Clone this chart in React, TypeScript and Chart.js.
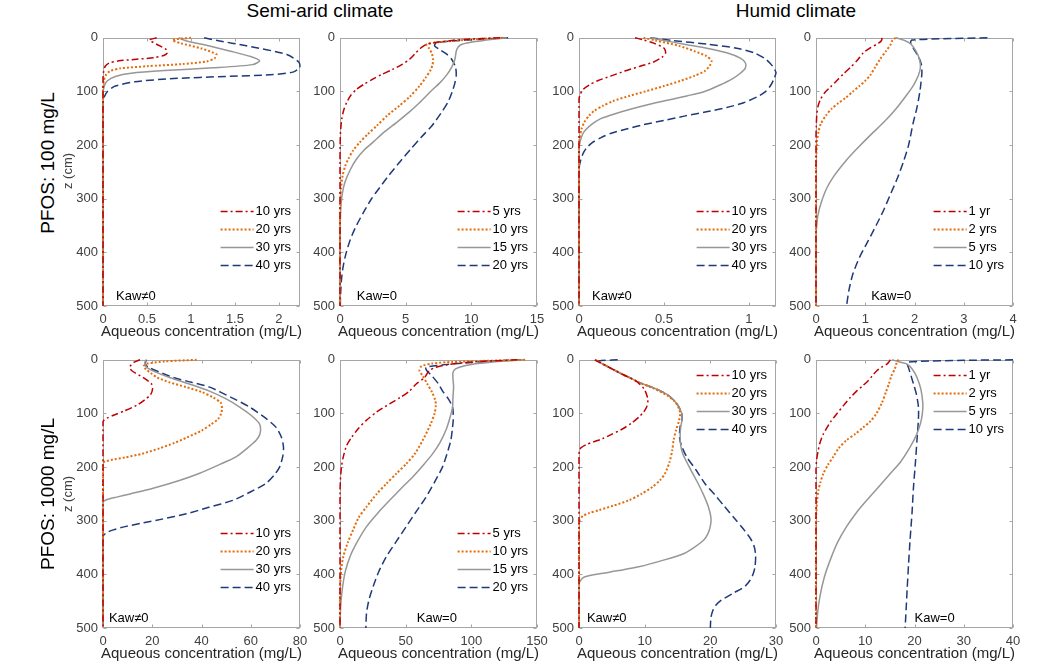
import React, { useEffect, useRef } from 'react';
import { Chart, registerables } from 'chart.js';

Chart.register(...registerables);

// Each point: [depth z (cm), aqueous concentration (mg/L)]
type Pt = [number, number];

// ---- PFOS 100 mg/L, semi-arid, Kaw≠0 ----
const SA100K_10Y: Pt[] = [[0,0.61],[4,0.53],[12,0.61],[22,0.72],[28,0.73],[33,0.69],[37,0.58],[40,0.38],[43,0.18],[47,0.07],[53,0.025],[62,0.008],[75,0],[500,0]];
const SA100K_20Y: Pt[] = [[0,1.0],[4,0.79],[10,0.88],[20,1.12],[31,1.29],[38,1.27],[44,1.18],[49,0.9],[53,0.5],[57,0.2],[62,0.08],[70,0.03],[80,0.01],[95,0],[500,0]];
const SA100K_30Y: Pt[] = [[0,0.86],[6,0.95],[15,1.2],[25,1.45],[35,1.68],[43,1.78],[50,1.7],[56,1.25],[61,0.7],[66,0.32],[72,0.14],[80,0.05],[90,0.015],[105,0],[500,0]];
const SA100K_40Y: Pt[] = [[0,1.15],[5,1.3],[15,1.63],[31,2.09],[46,2.23],[55,2.24],[64,2.16],[69,1.9],[72,1.4],[76,0.8],[82,0.36],[90,0.14],[100,0.05],[110,0.015],[120,0],[500,0]];

// ---- PFOS 100 mg/L, semi-arid, Kaw=0 ----
const SA100_5Y: Pt[] = [[0,12.2],[3,9.5],[7,7.8],[12,6.6],[20,6.1],[30,5.7],[40,5.3],[50,4.7],[59,4.0],[68,3.2],[77,2.5],[87,1.8],[96,1.26],[108,0.8],[121,0.5],[135,0.28],[152,0.13],[175,0.04],[200,0.01],[230,0],[500,0]];
const SA100_10Y: Pt[] = [[0,12.4],[3,10],[7,8],[12,6.6],[20,6.8],[30,7.0],[40,7.08],[50,7.05],[60,6.9],[75,6.5],[90,6.05],[110,5.3],[127,4.5],[145,3.6],[164,2.8],[180,2.1],[195,1.5],[210,1.0],[226,0.63],[240,0.38],[257,0.2],[280,0.08],[300,0.03],[330,0],[500,0]];
const SA100_15Y: Pt[] = [[0,12.7],[3,11.5],[7,10.3],[12,9.3],[17,9.0],[25,8.85],[40,8.75],[55,8.5],[70,8.1],[84,7.6],[100,6.9],[121,6.05],[140,5.2],[158,4.3],[175,3.4],[195,2.5],[210,1.8],[226,1.26],[245,0.8],[269,0.38],[290,0.18],[310,0.08],[337,0.03],[360,0],[500,0]];
const SA100_20Y: Pt[] = [[0,12.8],[3,10.5],[6,8.5],[10,7.3],[15,7.2],[22,7.6],[30,8.1],[40,8.5],[55,8.8],[70,8.85],[84,8.75],[100,8.55],[121,8.2],[140,7.7],[164,7.0],[185,6.2],[207,5.4],[230,4.6],[257,3.7],[280,3.0],[300,2.4],[325,1.8],[350,1.25],[375,0.8],[400,0.48],[425,0.25],[449,0.12],[475,0.05],[500,0.02]];

// ---- PFOS 100 mg/L, humid, Kaw≠0 ----
const HU100K_10Y: Pt[] = [[0,0.33],[4,0.38],[10,0.44],[19,0.5],[28,0.51],[36,0.49],[45,0.44],[53,0.36],[62,0.27],[71,0.19],[80,0.11],[88,0.06],[96,0.025],[105,0.008],[115,0],[500,0]];
const HU100K_20Y: Pt[] = [[0,0.38],[5,0.45],[15,0.59],[25,0.68],[34,0.75],[43,0.78],[52,0.77],[62,0.74],[71,0.68],[80,0.6],[90,0.5],[100,0.39],[108,0.3],[118,0.2],[127,0.14],[136,0.09],[145,0.06],[158,0.03],[170,0.015],[190,0.003],[210,0],[500,0]];
const HU100K_30Y: Pt[] = [[0,0.42],[5,0.5],[12,0.62],[20,0.76],[28,0.87],[38,0.95],[47,0.98],[56,0.98],[66,0.95],[77,0.9],[88,0.83],[100,0.74],[108,0.64],[115,0.54],[122,0.44],[130,0.34],[138,0.25],[145,0.18],[152,0.12],[160,0.08],[175,0.03],[195,0.005],[210,0],[500,0]];
const HU100K_40Y: Pt[] = [[0,0.42],[5,0.55],[12,0.76],[19,0.92],[28,1.03],[40,1.1],[53,1.14],[65,1.16],[75,1.15],[88,1.13],[100,1.1],[110,1.05],[121,0.97],[130,0.87],[138,0.75],[146,0.62],[154,0.5],[162,0.38],[170,0.28],[178,0.19],[186,0.13],[195,0.08],[205,0.045],[215,0.025],[228,0.01],[245,0],[500,0]];

// ---- PFOS 100 mg/L, humid, Kaw=0 ----
const HU100_1Y: Pt[] = [[0,1.34],[5,1.33],[10,1.27],[19,1.1],[28,0.96],[43,0.83],[55,0.7],[68,0.55],[80,0.42],[92,0.29],[102,0.18],[115,0.09],[128,0.04],[145,0.015],[165,0.005],[185,0],[500,0]];
const HU100_2Y: Pt[] = [[0,1.62],[5,1.55],[12,1.52],[25,1.42],[40,1.3],[55,1.2],[70,1.1],[80,1.0],[90,0.88],[100,0.75],[112,0.6],[122,0.45],[132,0.32],[145,0.2],[160,0.1],[175,0.05],[195,0.02],[220,0.005],[240,0],[500,0]];
const HU100_5Y: Pt[] = [[0,1.62],[5,1.8],[12,1.93],[25,2.03],[40,2.1],[55,2.12],[70,2.08],[90,1.97],[114,1.78],[135,1.6],[158,1.37],[180,1.12],[207,0.83],[230,0.6],[257,0.37],[280,0.22],[306,0.11],[330,0.04],[350,0.015],[370,0],[500,0]];
const HU100_10Y: Pt[] = [[0,3.48],[2,2.5],[4,1.95],[8,1.92],[20,1.98],[35,2.08],[50,2.14],[65,2.15],[85,2.13],[100,2.11],[130,2.05],[160,1.97],[200,1.88],[230,1.78],[260,1.66],[290,1.52],[320,1.38],[350,1.22],[380,1.05],[410,0.88],[440,0.75],[470,0.67],[500,0.62]];

// ---- PFOS 1000 mg/L, semi-arid, Kaw≠0 ----
const SA1000K_10Y: Pt[] = [[0,15],[5,12.5],[13,10.9],[20,11.6],[33,16.3],[45,19.7],[55,20.1],[65,19.3],[75,16.8],[85,13.6],[95,8.8],[103,4.5],[109,1.5],[113,0.3],[116,0],[500,0]];
const SA1000K_20Y: Pt[] = [[0,38],[3,25],[7,18],[12,16.5],[18,17.5],[25,19.5],[33,22],[42,27],[51,33.9],[60,40],[70,44.7],[80,47.8],[90,48.3],[100,48],[110,46.8],[120,44],[132,40],[145,34],[155,29],[165,23],[175,16],[182,9],[186,4],[189,1.5],[192,0],[500,0]];
const SA1000K_30Y: Pt[] = [[0,17.5],[5,17],[14,17.7],[22,21],[33,27],[45,35],[58,43],[73,50],[88,55.5],[103,60],[119,63.5],[130,64],[140,63.6],[150,62.2],[165,58.5],[181,54],[195,47.5],[212,39],[225,31],[240,20],[250,11],[256,5.5],[260,2],[263,0.5],[266,0],[500,0]];
const SA1000K_40Y: Pt[] = [[0,17.7],[5,17.2],[10,17.5],[14,18.5],[22,22.5],[33,28.5],[42,36],[51,43.3],[70,52],[88,59.5],[107,65.5],[126,70.3],[145,72.5],[163,73.3],[180,73],[200,71.7],[215,69.5],[231,66],[246,60],[262,52.8],[275,43],[287,33.9],[297,24],[304,16.3],[311,9],[317,4.2],[323,1.2],[330,0],[500,0]];

// ---- PFOS 1000 mg/L, semi-arid, Kaw=0 ----
const SA1000_5Y: Pt[] = [[0,135],[2,115],[5,95],[9,82],[14,73],[20,68],[27,66],[33,64.5],[45,58],[58,53],[70,46],[82,37.8],[97,28],[113,20],[128,14],[144,9],[160,5],[181,2.5],[200,1.1],[225,0.3],[250,0],[500,0]];
const SA1000_10Y: Pt[] = [[0,141],[2,110],[4,85],[7,70],[12,62],[20,60.5],[30,63],[45,66.5],[60,70],[75,72.5],[85,73],[100,72],[120,69],[150,63],[175,57],[194,50.4],[212,43],[231,35.3],[250,28],[274,20.2],[295,14],[317,10],[340,6],[367,2.5],[390,1],[410,0.3],[440,0],[500,0]];
const SA1000_15Y: Pt[] = [[0,140],[3,120],[7,105],[11,95],[17,88],[24,86],[35,86],[50,86.5],[70,86],[88,85.7],[110,83.5],[131,80.7],[155,76],[175,70.6],[196,63.5],[218,55.5],[240,46.5],[262,37.8],[285,29],[311,20.2],[340,13],[367,7.6],[395,4],[423,2],[450,0.8],[472,0.3],[500,0]];
const SA1000_20Y: Pt[] = [[0,138],[2,120],[5,100],[9,80],[14,65.5],[20,66],[30,70],[45,75],[58,78],[73,82.5],[88,85.7],[100,86.2],[113,86.2],[130,85.5],[150,84.4],[175,81.5],[200,78],[228,72],[256,65.5],[283,58],[311,50.4],[340,42.5],[367,35.3],[395,29.5],[423,25.2],[448,22],[472,20.2],[500,19.7]];

// ---- PFOS 1000 mg/L, humid, Kaw≠0 ----
const HU1000K_10Y: Pt[] = [[0,2.4],[5,3.2],[11,4.1],[20,5.5],[27,6.6],[39,8.6],[54,9.9],[65,10.3],[75,10.5],[88,10.3],[98,9.8],[107,9.1],[118,8],[129,6.6],[140,4.8],[147,3.6],[153,2.2],[158,1.1],[164,0.3],[170,0.05],[180,0],[500,0]];
const HU1000K_20Y: Pt[] = [[0,2.5],[5,3.2],[11,4.1],[20,5.5],[27,6.6],[35,8],[42,9.1],[54,11.5],[67,13.5],[78,14.6],[90,15.2],[101,15.4],[115,15.2],[130,14.8],[150,14.4],[169,14.2],[190,13.8],[212,13.1],[225,12.3],[237,11.2],[250,9.5],[262,7.6],[272,5.2],[280,3.1],[286,1.5],[291,0.6],[299,0.1],[310,0],[500,0]];
const HU1000K_30Y: Pt[] = [[0,2.4],[5,3.2],[11,4.1],[20,5.5],[27,6.6],[35,8],[42,9.1],[54,11.7],[67,13.7],[82,14.9],[98,15.6],[110,15.7],[125,15.5],[140,15.4],[160,15.5],[175,15.8],[200,16.8],[225,17.9],[250,18.9],[274,19.7],[295,20.1],[310,20],[325,19.6],[336,19],[350,17.5],[361,16],[373,13],[386,9.1],[393,6],[399,3.1],[405,0.8],[412,0.2],[420,0],[500,0]];
const HU1000K_40Y: Pt[] = [[0,5.9],[2,3],[5,3.2],[11,4.1],[20,5.5],[27,6.6],[35,8],[42,9.1],[54,11.7],[67,13.7],[82,14.9],[98,15.6],[110,15.7],[125,15.4],[144,15.3],[160,15.6],[181,16.4],[205,17.8],[231,19.2],[252,20.7],[274,22.2],[296,23.7],[318,25.2],[335,26.2],[349,26.7],[365,26.9],[386,26.8],[400,26.5],[412,26],[423,25.2],[435,23.5],[448,21.7],[458,20.8],[467,20.4],[480,20.1],[500,20]];

// ---- PFOS 1000 mg/L, humid, Kaw=0 ----
const HU1000_1Y: Pt[] = [[0,15.1],[4,14.8],[8,14.4],[14,13.3],[20,12.4],[30,11.4],[39,10.6],[50,9.3],[58,8.3],[70,7.0],[85,5.6],[101,4.2],[115,3.0],[127,2.2],[138,1.5],[155,0.8],[169,0.45],[185,0.15],[205,0],[500,0]];
const HU1000_2Y: Pt[] = [[0,16.8],[3,16.4],[8,16.3],[17,16],[30,15.3],[45,14.8],[60,14.2],[80,13.4],[101,12.2],[115,11],[126,9.6],[138,8],[150,6.2],[165,4.6],[181,3.5],[196,2.4],[212,1.5],[228,0.9],[243,0.5],[265,0.2],[287,0.05],[300,0],[500,0]];
const HU1000_5Y: Pt[] = [[0,15.4],[4,17],[8,18.5],[18,19.6],[33,20.5],[55,21.3],[82,21.7],[100,21.6],[119,21.2],[140,20.4],[163,19.1],[190,17.2],[212,15.1],[237,12.7],[262,10.3],[285,8.2],[311,6.2],[340,4.4],[373,2.9],[405,1.7],[441,0.8],[470,0.35],[500,0.1]];
const HU1000_10Y: Pt[] = [[0,40],[1,30],[3,21],[5,18.5],[15,18.8],[30,19.3],[45,19.8],[65,20.4],[88,20.8],[110,20.8],[150,20.5],[190,20.2],[237,19.8],[285,19.5],[336,19.1],[380,18.8],[429,18.5],[465,18.3],[500,18.1]];

// ---- axis ticks & labels ----
const DEPTH_TICKS = [0, 100, 200, 300, 400, 500];
const X_TICKS_SA100K = [0, 0.5, 1, 1.5, 2];
const X_TICKS_SA100 = [0, 5, 10, 15];
const X_TICKS_HU100K = [0, 0.5, 1];
const X_TICKS_HU100 = [0, 1, 2, 3, 4];
const X_TICKS_SA1000K = [0, 20, 40, 60, 80];
const X_TICKS_SA1000 = [0, 50, 100, 150];
const X_TICKS_HU1000K = [0, 10, 20, 30];
const X_TICKS_HU1000 = [0, 10, 20, 30, 40];

const LEG_KAW = ['10 yrs', '20 yrs', '30 yrs', '40 yrs'];
const LEG_SA0 = ['5 yrs', '10 yrs', '15 yrs', '20 yrs'];
const LEG_HU0 = ['1 yr', '2 yrs', '5 yrs', '10 yrs'];

const X_TITLE = 'Aqueous concentration (mg/L)';

// ---- styling ----
const FONT = "'Liberation Sans', Arial, Helvetica, sans-serif";
const STYLES = [
  { color: '#C00000', dash: [7, 3, 2, 3], width: 1.5 },
  { color: '#E46C0A', dash: [2, 2], width: 2 },
  { color: '#979797', dash: [] as number[], width: 1.5 },
  { color: '#1F3A7A', dash: [8, 4], width: 1.5 },
];

const PLOT_W = 197;
const PLOT_H = 269;
const AX_W = 45;
const PAD_T = 12;
const PAD_R = 30;
const AX_H = 50;
const CW = AX_W + PLOT_W + PAD_R;
const CH = PAD_T + PLOT_H + AX_H;

type PanelCfg = {
  series: Pt[][];
  labels: string[];
  xMax: number;
  xTicks: number[];
  note: string;
  noteX: number;
  legend: 'top' | 'bottom';
  left: number;
  top: number;
};

const PANELS: PanelCfg[] = [
  { series: [SA100K_10Y, SA100K_20Y, SA100K_30Y, SA100K_40Y], labels: LEG_KAW, xMax: 2.24, xTicks: X_TICKS_SA100K, note: 'Kaw≠0', noteX: 0.066, legend: 'bottom', left: 103, top: 37 },
  { series: [SA100_5Y, SA100_10Y, SA100_15Y, SA100_20Y], labels: LEG_SA0, xMax: 15, xTicks: X_TICKS_SA100, note: 'Kaw=0', noteX: 0.085, legend: 'bottom', left: 340, top: 37 },
  { series: [HU100K_10Y, HU100K_20Y, HU100K_30Y, HU100K_40Y], labels: LEG_KAW, xMax: 1.16, xTicks: X_TICKS_HU100K, note: 'Kaw≠0', noteX: 0.066, legend: 'bottom', left: 579, top: 37 },
  { series: [HU100_1Y, HU100_2Y, HU100_5Y, HU100_10Y], labels: LEG_HU0, xMax: 4, xTicks: X_TICKS_HU100, note: 'Kaw=0', noteX: 0.28, legend: 'bottom', left: 816, top: 37 },
  { series: [SA1000K_10Y, SA1000K_20Y, SA1000K_30Y, SA1000K_40Y], labels: LEG_KAW, xMax: 80, xTicks: X_TICKS_SA1000K, note: 'Kaw≠0', noteX: 0.03, legend: 'bottom', left: 103, top: 359 },
  { series: [SA1000_5Y, SA1000_10Y, SA1000_15Y, SA1000_20Y], labels: LEG_SA0, xMax: 150, xTicks: X_TICKS_SA1000, note: 'Kaw=0', noteX: 0.39, legend: 'bottom', left: 340, top: 359 },
  { series: [HU1000K_10Y, HU1000K_20Y, HU1000K_30Y, HU1000K_40Y], labels: LEG_KAW, xMax: 30, xTicks: X_TICKS_HU1000K, note: 'Kaw≠0', noteX: 0.04, legend: 'top', left: 579, top: 359 },
  { series: [HU1000_1Y, HU1000_2Y, HU1000_5Y, HU1000_10Y], labels: LEG_HU0, xMax: 40, xTicks: X_TICKS_HU1000, note: 'Kaw=0', noteX: 0.5, legend: 'top', left: 816, top: 359 },
];

const boxPlugin = {
  id: 'panelBox',
  beforeDatasetsDraw(chart: any) {
    const { ctx, chartArea: a, scales } = chart;
    ctx.save();
    ctx.strokeStyle = '#A6A6A6';
    ctx.lineWidth = 1;
    ctx.setLineDash([]);
    const l = Math.round(a.left) + 0.5, r = Math.round(a.right) - 0.5;
    const t = Math.round(a.top) + 0.5, b = Math.round(a.bottom) - 0.5;
    ctx.strokeRect(l, t, r - l, b - t);
    ctx.beginPath();
    for (const tk of scales.x.ticks) {
      const px = Math.round(scales.x.getPixelForValue(tk.value)) + 0.5;
      ctx.moveTo(px, b); ctx.lineTo(px, b - 3);
      ctx.moveTo(px, t); ctx.lineTo(px, t + 3);
    }
    for (const tk of scales.y.ticks) {
      const py = Math.round(scales.y.getPixelForValue(tk.value)) + 0.5;
      ctx.moveTo(l, py); ctx.lineTo(l + 3, py);
      ctx.moveTo(r, py); ctx.lineTo(r - 3, py);
    }
    ctx.stroke();
    ctx.restore();
  },
  afterDraw(chart: any, _args: any, opts: any) {
    const { ctx, chartArea: a } = chart;
    ctx.save();
    // x axis title
    ctx.font = `15px ${FONT}`;
    ctx.fillStyle = '#262626';
    ctx.textAlign = 'center';
    ctx.textBaseline = 'middle';
    ctx.fillText(X_TITLE, (a.left + a.right) / 2, a.bottom + 26);
    // legend
    ctx.font = `13px ${FONT}`;
    const labels: string[] = opts.labels;
    const maxW = Math.max(...labels.map((s) => ctx.measureText(s).width));
    const textX = a.right - 9 - maxW;
    const lineEnd = textX - 2;
    const lineStart = lineEnd - 33;
    const rowH = 18;
    const firstY = opts.legend === 'top' ? a.top + 15 : a.bottom - 41 - rowH * (labels.length - 1);
    labels.forEach((lab, i) => {
      const y = Math.round(firstY + i * rowH) + 0.5;
      const st = STYLES[i];
      ctx.strokeStyle = st.color;
      ctx.lineWidth = st.width;
      ctx.setLineDash(st.dash);
      ctx.beginPath();
      ctx.moveTo(lineStart, y);
      ctx.lineTo(lineEnd, y);
      ctx.stroke();
      ctx.fillStyle = '#000000';
      ctx.textAlign = 'left';
      ctx.textBaseline = 'middle';
      ctx.fillText(lab, textX, y);
    });
    // Kaw note
    ctx.setLineDash([]);
    ctx.fillStyle = '#000000';
    ctx.textAlign = 'left';
    ctx.textBaseline = 'middle';
    ctx.fillText(opts.note, a.left + opts.noteX * (a.right - a.left), a.bottom - 10);
    ctx.restore();
  },
};

function Panel({ cfg }: { cfg: PanelCfg }) {
  const ref = useRef<HTMLCanvasElement>(null);
  useEffect(() => {
    const chart = new Chart(ref.current as HTMLCanvasElement, {
      type: 'scatter',
      data: {
        datasets: cfg.series.map((s, i) => ({
          label: cfg.labels[i],
          data: s.map(([z, c]) => ({ x: c, y: z })),
          showLine: true,
          borderColor: STYLES[i].color,
          backgroundColor: STYLES[i].color,
          borderDash: STYLES[i].dash,
          borderWidth: STYLES[i].width,
          pointRadius: 0,
          pointHoverRadius: 0,
          tension: 0.25,
          fill: false,
          clip: 4,
        })),
      },
      options: {
        animation: false,
        responsive: false,
        maintainAspectRatio: false,
        events: [],
        layout: { padding: { top: PAD_T, right: PAD_R, left: 0, bottom: 0 } },
        plugins: {
          legend: { display: false },
          tooltip: { enabled: false },
          panelBox: { labels: cfg.labels, legend: cfg.legend, note: cfg.note, noteX: cfg.noteX },
        } as any,
        scales: {
          x: {
            type: 'linear',
            position: 'bottom',
            min: 0,
            max: cfg.xMax,
            grid: { display: false, drawTicks: false },
            border: { display: false },
            afterBuildTicks: (s: any) => { s.ticks = cfg.xTicks.map((v) => ({ value: v })); },
            afterFit: (s: any) => { s.height = AX_H; },
            ticks: {
              padding: 6,
              color: '#404040',
              font: { family: FONT, size: 13 },
              maxRotation: 0,
              autoSkip: false,
              callback: (v: any) => String(v),
            },
          },
          y: {
            type: 'linear',
            position: 'left',
            reverse: true,
            min: 0,
            max: 500,
            grid: { display: false, drawTicks: false },
            border: { display: false },
            afterBuildTicks: (s: any) => { s.ticks = DEPTH_TICKS.map((v) => ({ value: v })); },
            afterFit: (s: any) => { s.width = AX_W; },
            ticks: {
              padding: 5,
              color: '#404040',
              font: { family: FONT, size: 13 },
              autoSkip: false,
              callback: (v: any) => String(v),
            },
          },
        },
      } as any,
      plugins: [boxPlugin as any],
    });
    return () => chart.destroy();
  }, [cfg]);
  return (
    <canvas
      ref={ref}
      width={CW}
      height={CH}
      style={{ position: 'absolute', left: cfg.left - AX_W, top: cfg.top - PAD_T, width: CW, height: CH }}
    />
  );
}

const center = (x: number, y: number, size: number, color: string, rotate = false): React.CSSProperties => ({
  position: 'absolute',
  left: x,
  top: y,
  transform: `translate(-50%, -50%)${rotate ? ' rotate(-90deg)' : ''}`,
  fontFamily: FONT,
  fontSize: size,
  color,
  whiteSpace: 'nowrap',
  lineHeight: 1,
});

export default function App() {
  return (
    <div style={{ position: 'absolute', left: 0, top: 0, width: 1050, height: 670, background: '#ffffff', overflow: 'hidden' }}>
      {PANELS.map((p, i) => <Panel key={i} cfg={p} />)}
      <div style={center(320, 10, 19, '#000000')}>Semi-arid climate</div>
      <div style={center(796, 10, 19, '#000000')}>Humid climate</div>
      <div style={center(47, 163, 19, '#000000', true)}>PFOS: 100 mg/L</div>
      <div style={center(67, 171, 13, '#404040', true)}>z (cm)</div>
      <div style={center(47, 494, 19, '#000000', true)}>PFOS: 1000 mg/L</div>
      <div style={center(67, 494, 13, '#404040', true)}>z (cm)</div>
    </div>
  );
}
